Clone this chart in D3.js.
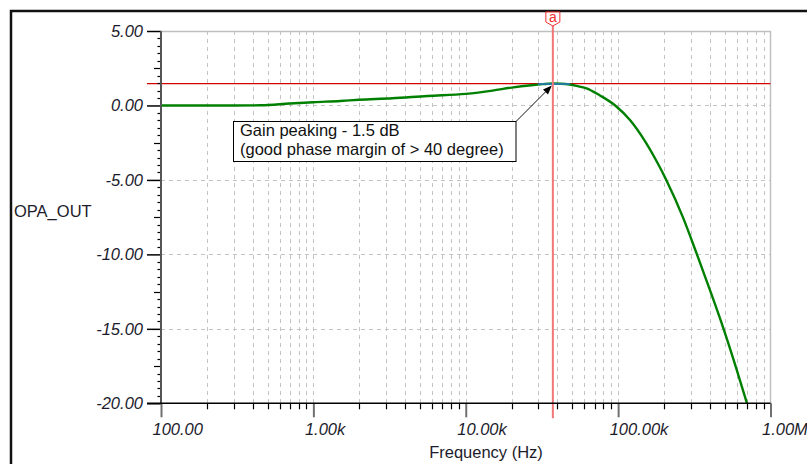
<!DOCTYPE html>
<html>
<head>
<meta charset="utf-8">
<script src="https://cdn.jsdelivr.net/npm/d3@7"></script>
<style>
  html, body { margin: 0; padding: 0; background: #fff; overflow: hidden; }
  svg { display: block; }
  text { font-family: "Liberation Sans", Arial, sans-serif; }
</style>
</head>
<body>
<svg id="chart" width="807" height="464"></svg>
<script>
// Closed-loop gain of OPA_OUT versus frequency
const freqHz = [100, 200, 300, 450, 700, 1000, 1500, 2000, 3300, 5600, 10000, 15000, 20000,
                27000, 32000, 37000, 42000, 48000, 55000, 62000, 76000, 95700, 120000,
                150000, 180000, 207000, 266000, 329000, 404000, 492000, 590000, 701000];
const gainDb = [0, 0, 0, 0.01, 0.13, 0.22, 0.30, 0.38, 0.48, 0.64, 0.78, 1.00, 1.20,
                1.36, 1.43, 1.47, 1.46, 1.41, 1.28, 1.15, 0.67, 0.0, -1.0,
                -2.4, -3.8, -5.0, -7.5, -10.0, -12.5, -15.0, -17.5, -20.0];

const xTickValues = [1e2, 1e3, 1e4, 1e5, 1e6];
const xTickLabels = ["100.00", "1.00k", "10.00k", "100.00k", "1.00M"];
const yTickValues = [5, 0, -5, -10, -15, -20];
const yTickLabels = ["5.00", "0.00", "-5.00", "-10.00", "-15.00", "-20.00"];

const cursorFreq = 37300;          // cursor "a"
const peakGain = 1.47;             // gain at the peak (dB)
const peakBand = [29800, 48500];   // span marked around the peak
const noteLines = ["Gain peaking - 1.5 dB", "(good phase margin of > 40 degree)"];
const xTitle = "Frequency (Hz)";
const yTitle = "OPA_OUT";

const svg = d3.select("#chart");
const L = 161, R = 770.5, T = 31, B = 403.3;

const x = d3.scaleLog().domain([1e2, 1e6]).range([L, R]);
const y = d3.scaleLinear().domain([-20, 5]).range([B, T]);

// outer frame
svg.append("path")
  .attr("d", "M11,470 V11 H820")
  .attr("fill", "none").attr("stroke", "#111").attr("stroke-width", 2.5);

svg.append("defs").append("clipPath").attr("id", "plotClip")
  .append("rect").attr("x", L).attr("y", T - 2).attr("width", R - L).attr("height", B - T + 2);

// minor log positions (2..9 per decade)
const minorFreqs = [];
for (let d = 1e2; d < 1e6; d *= 10) for (let m = 2; m <= 9; m++) minorFreqs.push(m * d);

// vertical dashed grid
const grid = svg.append("g").attr("stroke", "#c4c4c4").attr("stroke-width", 1)
  .attr("stroke-dasharray", "4,4").attr("fill", "none");
minorFreqs.concat([1e3, 1e4, 1e5]).forEach(f => {
  grid.append("line").attr("x1", Math.round(x(f)) + 0.5).attr("x2", Math.round(x(f)) + 0.5)
    .attr("y1", T).attr("y2", B);
});
// horizontal dashed grid at major levels
[0, -5, -10, -15].forEach(v => {
  grid.append("line").attr("x1", L).attr("x2", R)
    .attr("y1", Math.round(y(v)) + 0.5).attr("y2", Math.round(y(v)) + 0.5);
});

// plot top / right border
svg.append("path")
  .attr("d", `M${L},${T + 0.5} H${R} V${B}`)
  .attr("fill", "none").attr("stroke", "#c0c0c0").attr("stroke-width", 1.5);

// horizontal level line at the peak gain
svg.append("line")
  .attr("x1", L - 14).attr("x2", R)
  .attr("y1", y(peakGain)).attr("y2", y(peakGain))
  .attr("stroke", "#d40000").attr("stroke-width", 1.3);

// gain curve
const pts = freqHz.map((f, i) => [f, gainDb[i]]);
svg.append("path")
  .datum(pts)
  .attr("clip-path", "url(#plotClip)")
  .attr("fill", "none")
  .attr("stroke", "#008000")
  .attr("stroke-width", 2.4)
  .attr("d", d3.line().x(d => x(d[0])).y(d => y(d[1])).curve(d3.curveMonotoneX));

// peak span
svg.append("line")
  .attr("x1", x(peakBand[0])).attr("x2", x(peakBand[1]))
  .attr("y1", y(peakGain) + 0.5).attr("y2", y(peakGain) + 0.5)
  .attr("stroke", "#2a7bd0").attr("stroke-width", 1.5);

// cursor line
const cx = x(cursorFreq);
svg.append("line")
  .attr("x1", cx).attr("x2", cx).attr("y1", 25).attr("y2", B + 15)
  .attr("stroke", "#f27878").attr("stroke-width", 2);

// y axis
const yAxis = d3.axisLeft(y).tickValues(yTickValues)
  .tickFormat((d, i) => yTickLabels[i]).tickSize(14).tickPadding(4);
const gy = svg.append("g").attr("transform", `translate(${L},0)`).call(yAxis);
gy.select(".domain").remove();
gy.selectAll(".tick line").attr("stroke", "#000").attr("stroke-width", 1.5);
gy.selectAll(".tick text")
  .attr("fill", "#1c1c2c").style("font-size", "16.5px").style("font-style", "italic");

// y minor ticks every 0.5 dB
const yMinor = gy.append("g").attr("stroke", "#000").attr("stroke-width", 1.2);
for (let k = -40; k <= 10; k++) {
  const v = k / 2;
  if (v % 5 === 0) continue;
  const len = (Math.abs(v) % 5 === 2.5) ? 7 : 3.5;
  yMinor.append("line").attr("x1", -len).attr("x2", 0)
    .attr("y1", Math.round(y(v)) + 0.5).attr("y2", Math.round(y(v)) + 0.5);
}
svg.append("line").attr("x1", L).attr("x2", L).attr("y1", T).attr("y2", B)
  .attr("stroke", "#555").attr("stroke-width", 2);

// x axis
const xAxis = d3.axisBottom(x).tickValues(xTickValues)
  .tickFormat((d, i) => xTickLabels[i]).tickSize(14).tickPadding(6);
const gx = svg.append("g").attr("transform", `translate(0,${B})`).call(xAxis);
gx.select(".domain").remove();
gx.selectAll(".tick line").attr("stroke", "#707070").attr("stroke-width", 2);
gx.selectAll(".tick text")
  .attr("fill", "#1c1c2c").attr("text-anchor", "start").attr("dx", -9)
  .style("font-size", "16.5px").style("font-style", "italic");
const xMinor = gx.append("g").attr("stroke", "#000").attr("stroke-width", 1.2);
minorFreqs.forEach(f => {
  xMinor.append("line").attr("x1", Math.round(x(f)) + 0.5).attr("x2", Math.round(x(f)) + 0.5)
    .attr("y1", 0).attr("y2", 6);
});
svg.append("line").attr("x1", L - 14).attr("x2", R).attr("y1", B).attr("y2", B)
  .attr("stroke", "#000").attr("stroke-width", 1.5);

// axis titles
svg.append("text").attr("x", 486).attr("y", 458).attr("text-anchor", "middle")
  .attr("fill", "#1c1c2c").style("font-size", "16.5px").text(xTitle);
svg.append("text").attr("x", 14).attr("y", 216.5)
  .attr("fill", "#1c1c2c").style("font-size", "16.5px").text(yTitle);

// annotation with arrow pointing to the peak
const tipX = cx - 1, tipY = y(peakGain) + 2;
const boxR = 516, boxT = 121.5, boxL = 233.5, boxBtm = 161.5;
const ang = Math.atan2(tipY - boxT, tipX - boxR);
const headLen = 9, headW = 3.5;
const bx = tipX - headLen * Math.cos(ang), by = tipY - headLen * Math.sin(ang);
svg.append("line").attr("x1", boxR).attr("y1", boxT).attr("x2", bx).attr("y2", by)
  .attr("stroke", "#111").attr("stroke-width", 1);
svg.append("path")
  .attr("d", `M${tipX},${tipY} L${bx + headW * Math.sin(ang)},${by - headW * Math.cos(ang)} L${bx - headW * Math.sin(ang)},${by + headW * Math.cos(ang)} Z`)
  .attr("fill", "#000");
svg.append("rect").attr("x", boxL).attr("y", boxT).attr("width", boxR - boxL).attr("height", boxBtm - boxT)
  .attr("fill", "#fff").attr("stroke", "#000").attr("stroke-width", 1);
noteLines.forEach((t, i) => {
  svg.append("text").attr("x", boxL + 6.5).attr("y", 136 + i * 19)
    .attr("fill", "#111").style("font-size", "16.5px").text(t);
});

// cursor marker tag
svg.append("path")
  .attr("d", `M${cx - 7},12 H${cx + 7} V22 L${cx},26 L${cx - 7},22 Z`)
  .attr("fill", "#fff").attr("stroke", "#f03030").attr("stroke-width", 1);
svg.append("text").attr("x", cx).attr("y", 22).attr("text-anchor", "middle")
  .attr("fill", "#f03030").style("font-size", "14px").text("a");
</script>
</body>
</html>
